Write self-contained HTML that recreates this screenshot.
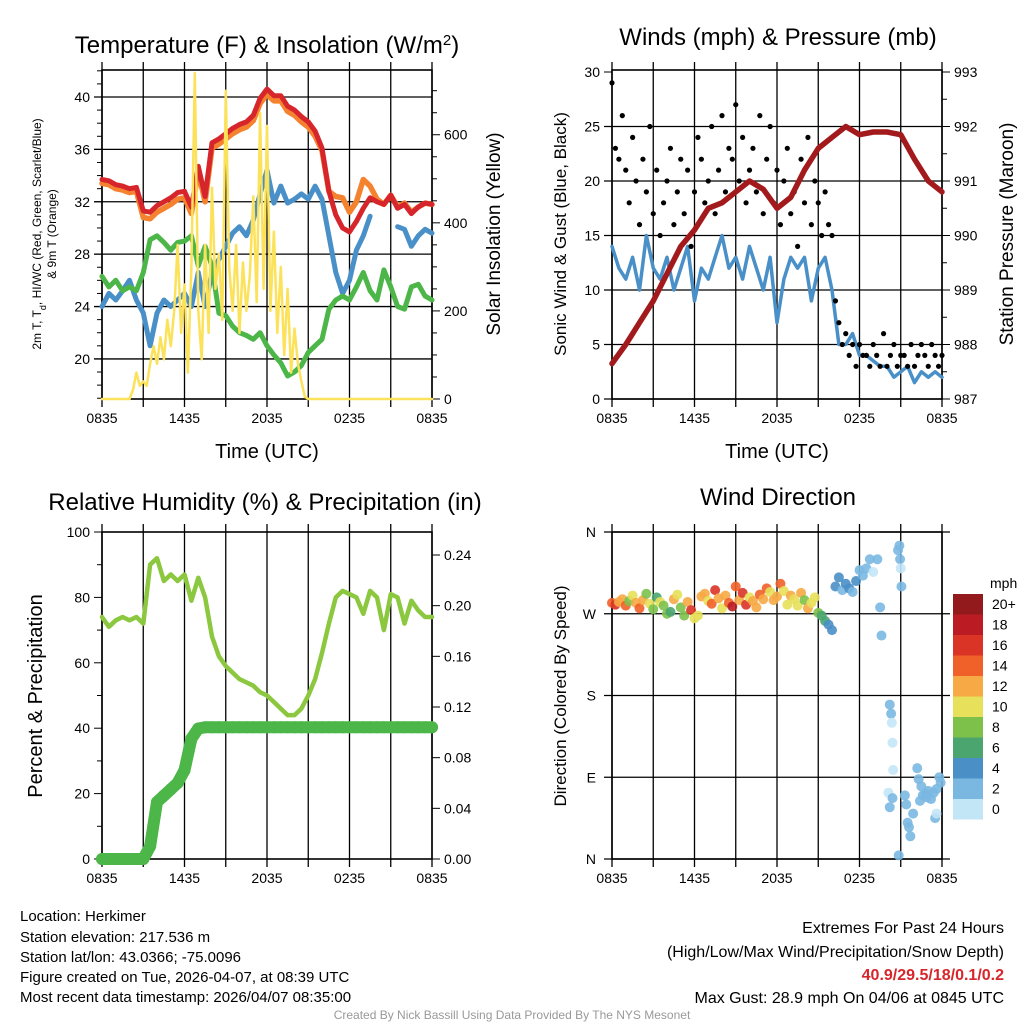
<!DOCTYPE html>
<html><head><meta charset="utf-8"><style>
html,body{margin:0;padding:0;background:#fff;}
svg{display:block;font-family:"Liberation Sans",sans-serif;}
</style></head><body>
<svg id="s" width="1024" height="1024" viewBox="0 0 1024 1024">
<g id="g"></g>
<text x="267" y="53" font-size="24" text-anchor="middle">Temperature (F) &amp; Insolation (W/m<tspan baseline-shift="super" font-size="15">2</tspan>)</text>
<text x="778" y="45" font-size="24" text-anchor="middle">Winds (mph) &amp; Pressure (mb)</text>
<text x="265" y="510" font-size="24" text-anchor="middle">Relative Humidity (%) &amp; Precipitation (in)</text>
<text x="778" y="505" font-size="24" text-anchor="middle">Wind Direction</text>
<text x="267" y="458" font-size="20" text-anchor="middle">Time (UTC)</text>
<text x="777" y="458" font-size="20" text-anchor="middle">Time (UTC)</text>
<text transform="translate(41,234) rotate(-90)" font-size="12" text-anchor="middle">2m T, T<tspan baseline-shift="sub" font-size="9">d</tspan>, HI/WC (Red, Green, Scarlet/Blue)</text>
<text transform="translate(56,234) rotate(-90)" font-size="12" text-anchor="middle">&amp; 9m T (Orange)</text>
<text transform="translate(500,234) rotate(-90)" font-size="19" text-anchor="middle">Solar Insolation (Yellow)</text>
<text transform="translate(566,234) rotate(-90)" font-size="17" text-anchor="middle">Sonic Wind &amp; Gust (Blue, Black)</text>
<text transform="translate(1013,234) rotate(-90)" font-size="19" text-anchor="middle">Station Pressure (Maroon)</text>
<text transform="translate(42,696) rotate(-90)" font-size="20" text-anchor="middle">Percent &amp; Precipitation</text>
<text transform="translate(566,696) rotate(-90)" font-size="17" text-anchor="middle">Direction (Colored By Speed)</text>
<text x="990" y="588" font-size="14">mph</text>
<g font-size="15">
<text x="20" y="921">Location: Herkimer</text>
<text x="20" y="942">Station elevation: 217.536 m</text>
<text x="20" y="962">Station lat/lon: 43.0366; -75.0096</text>
<text x="20" y="982">Figure created on Tue, 2026-04-07, at 08:39 UTC</text>
<text x="20" y="1002">Most recent data timestamp: 2026/04/07 08:35:00</text>
</g>
<g font-size="16" text-anchor="end">
<text x="1004" y="933">Extremes For Past 24 Hours</text>
<text x="1004" y="957">(High/Low/Max Wind/Precipitation/Snow Depth)</text>
<text x="1004" y="980" fill="#d7262b" font-weight="bold">40.9/29.5/18/0.1/0.2</text>
<text x="1004" y="1003">Max Gust: 28.9 mph On 04/06 at 0845 UTC</text>
</g>
<text x="512" y="1019" font-size="12" fill="#999" text-anchor="middle">Created By Nick Bassill Using Data Provided By The NYS Mesonet</text>
</svg>
<script>
const timeLabels=["0835","1435","2035","0235","0835"];
const temp2m=[33.7,33.6,33.3,33.2,33.0,33.1,31.3,31.2,31.7,32.0,32.3,32.7,32.8,31.6,34.7,32.4,36.5,36.8,37.2,37.6,37.9,38.1,38.6,39.9,40.6,40.1,40.1,39.3,39.0,38.5,38.1,37.4,36.1,32.8,31.0,30.0,29.7,30.5,31.5,32.3,32.0,31.8,32.5,31.5,31.8,31.1,31.6,31.9,31.8];
const temp9m=[33.4,33.3,33.0,32.9,32.7,32.8,30.8,30.7,31.2,31.5,31.8,32.2,32.3,31.1,34.3,32.0,36.1,36.4,36.8,37.2,37.5,37.7,38.2,39.5,40.2,39.7,39.7,38.9,38.6,38.1,37.7,37.0,35.9,32.8,32.4,32.3,31.2,32.0,33.7,33.2,32.2,31.8,32.5,31.6,31.9,31.2,31.6,31.9,31.8];
const dewpt=[26.3,25.5,26.0,25.2,25.5,25.2,26.6,29.1,29.4,28.9,28.3,28.9,29.0,29.4,27.1,28.6,27.1,23.5,23.3,22.5,22.0,21.8,21.5,22.0,21.0,20.3,19.7,18.7,19.0,19.5,20.5,21.0,21.5,23.8,24.5,24.8,24.5,25.5,26.6,25.2,24.5,26.8,25.5,24.0,23.8,25.5,25.7,24.8,24.5];
const windChill=[24.0,25.0,24.5,25.2,26.0,24.5,23.5,21.0,23.5,24.5,24.0,24.5,25.0,24.0,26.6,24.0,26.6,27.6,28.6,29.6,30.1,29.4,30.6,32.6,34.4,31.9,33.2,31.9,32.2,32.6,32.2,33.2,32.2,29.4,26.6,25.0,26.0,28.3,29.4,30.9,null,null,null,30.1,29.9,28.6,29.4,29.9,29.6];
const insolation=[0,0,0,0,0,0,0,0,0,20,60,30,40,30,80,120,80,140,90,180,120,200,350,150,260,60,300,740,200,90,350,150,480,250,330,180,700,300,200,350,150,310,200,280,460,220,650,250,620,200,380,150,300,100,250,60,160,80,40,5,0,0,0,0,0,0,0,0,0,0,0,0,0,0,0,0,0,0,0,0,0,0,0,0,0,0,0,0,0,0,0,0,0,0,0,0,0];
const pressure=[987.65,988.0,988.4,988.8,989.3,989.8,990.1,990.5,990.6,990.8,991.0,990.85,990.5,990.7,991.2,991.6,991.8,992.0,991.85,991.9,991.9,991.85,991.4,991.0,990.8];
const sonicWind=[14,12,11,13,10,15,12,11,13,10,12,14,9,12,11,13,15,12,13,11,14,12,10,13,7,11,13,12,13,9,12,13,10,5,5,6,4,4,3.5,3,3,2,2.5,3,1.5,2.5,2,2.5,2];
const gust=[29,23,22,26,21,18,24,20,16,22,19,25,17,21,15,18,20,23,16,19,22,17,21,14,19,24,22,18,20,25,17,21,26,19,23,22,27,20,24,18,21,23,19,26,17,22,25,18,21,16,20,23,17,19,14,22,18,24,16,20,18,15,19,16,15,9,7,5,6,4,5,3,5,4,4,3,5,4,3,6,3,4,5,3,4,4,3,5,3,4,5,4,3,5,4,3,4];
const rh=[74,71,73,74,73,74,72,90,92,85,87,85,87,79,86,80,68,62,59,57,55,54,53,51,50,48,46,44,44,46,50,55,63,72,80,82,81,80,75,82,80,70,81,80,72,79,76,74,74];
const precip=[0,0,0,0,0,0,0,0.01,0.045,0.05,0.055,0.06,0.07,0.095,0.103,0.104,0.104,0.104,0.104,0.104,0.104,0.104,0.104,0.104,0.104,0.104,0.104,0.104,0.104,0.104,0.104,0.104,0.104,0.104,0.104,0.104,0.104,0.104,0.104,0.104,0.104,0.104,0.104,0.104,0.104,0.104,0.104,0.104,0.104];
const dirEarly=[282,280,283,286,279,284,290,282,276,285,292,281,275,288,283,279,270,272,286,291,277,268,283,274,265,268,289,292,284,281,296,287,276,290,282,278,300,285,293,280,288,284,277,291,286,298,294,285,289,303,295,280,290,286,279,293,285,276,282,288,271,268,262,258,252];
const spdEarly=[14,16,12,13,15,8,10,12,14,13,9,11,8,7,10,9,8,7,12,10,9,8,12,16,10,11,13,12,10,14,16,12,10,13,15,19,14,12,17,16,11,13,12,14,12,15,11,13,12,14,11,10,12,11,10,13,9,12,10,11,8,7,6,4,4];
const timeLate=[16.25,16.5,16.75,17,17.25,17.5,17.75,18,18.25,18.5,18.75,19,19.3,19.5,19.6,20.2,20.3,20.35,20.4,20.45,20.1,20.2,20.4,20.8,20.9,20.95,21,21.05,20.85,21.3,21.4,21.5,21.6,21.7,21.9,22.2,22.3,22.5,22.6,22.8,23,23.2,23.4,23.6,23.8,23.9,23.5,23.6,22.9,22.4];
const dirLate=[300,310,296,303,298,294,306,318,312,320,330,316,330,277,246,170,160,150,128,98,73,57,67,340,345,330,320,300,4,70,60,40,35,25,50,100,88,80,70,72,75,66,73,77,90,84,45,50,68,64];
const spdLate=[4,4,3,4,4,3,4,3,2,2,2,1,3,2,2,3,2,1,0,1,0,2,2,2,2,2,1,2,2,3,3,2,2,2,2,3,3,3,2,2,2,2,2,2,3,3,3,0,2,2];
const cbLabels=["20+","18","16","14","12","10","8","6","4","2","0"];
const cbColors=["#921a1d","#bb1c24","#da3427","#ef6129","#f6a945","#e7e05a","#7dc14b","#4aa56e","#4a8fc6","#7ab8e2","#c3e6f7"];

const NS="http://www.w3.org/2000/svg";
const G=document.getElementById('g');
function mk(tag,at,parent){const e=document.createElementNS(NS,tag);for(const k in at)e.setAttribute(k,at[k]);(parent||G).appendChild(e);return e;}
function lin(d0,d1,r0,r1){return v=>r0+(v-d0)*(r1-r0)/(d1-d0);}
function txt(x,y,s,anchor,size){const t=mk('text',{x:x,y:y,'font-size':size||14,'text-anchor':anchor||'middle'});t.textContent=s;return t;}
function path(pts,stroke,w,name){let d='';let pen=false;pts.forEach(p=>{if(p==null){pen=false;return;}d+=(pen?'L':'M')+p[0].toFixed(1)+','+p[1].toFixed(1);pen=true;});const e=mk('path',{d:d,fill:'none',stroke:stroke,'stroke-width':w,'stroke-linejoin':'round','stroke-linecap':'round'});return e;}
function frame(x0,x1,y0,y1,name){
  const xs=lin(0,24,x0,x1);
  for(let h=0;h<=24;h+=3){const l=mk('line',{x1:xs(h),x2:xs(h),y1:y0-8,y2:y1+8,stroke:'#000','stroke-width':1.3});}
  timeLabels.forEach((s,i)=>txt(xs(i*6),y1+24,s));
  const r=mk('rect',{x:x0,y:y0,width:x1-x0,height:y1-y0,fill:'none',stroke:'#000','stroke-width':1.6});
  return xs;
}
function yaxis(x0,x1,scale,ticks,fmt,side,grid,minor){
  ticks.forEach(v=>{const y=scale(v);
    if(grid){const l=mk('line',{x1:x0-8,x2:x1,y1:y,y2:y,stroke:'#000','stroke-width':1.3});}
    if(side==='left'){mk('line',{x1:x0-8,x2:x0,y1:y,y2:y,stroke:'#000'});txt(x0-12,y+5,fmt(v),'end');}
    if(side==='right'){mk('line',{x1:x1,x2:x1+8,y1:y,y2:y,stroke:'#000'});txt(x1+12,y+5,fmt(v),'start');}
  });
  (minor||[]).forEach(v=>{const y=scale(v);const xa=side==='right'?x1:x0-5;mk('line',{x1:xa,x2:xa+5,y1:y,y2:y,stroke:'#000'});});
}

/* Panel 1 */
(function(){
  const x0=102,x1=432,y0=70,y1=399;
  const xs=lin(0,24,x0,x1), yT=lin(40,16.94,97,399), yS=lin(0,747,399,70);
  yaxis(x0,x1,yT,[20,24,28,32,36,40],v=>v,'left',true,[17,18,19,21,22,23,25,26,27,29,30,31,33,34,35,37,38,39,41,42]);
  yaxis(x0,x1,yS,[0,200,400,600],v=>v,'right',false,[50,100,150,250,300,350,450,500,550,650,700]);
  frame(x0,x1,y0,y1,'temp-plot-area');
  const half=a=>a.map((v,i)=>v==null?null:[xs(i*0.5),yT(v)]);
  path(half(windChill),'#4a90c8',5,'windchill-line');
  path(half(dewpt),'#4cb648',5,'dewpoint-line');
  path(half(temp9m),'#f5822f',5.5,'temp9m-line');
  path(half(temp2m),'#d7262b',5,'temp2m-line');
  path(insolation.map((v,i)=>[xs(i*0.25),yS(v)]),'#fbe25a',2.5,'insolation-line');
})();

/* Panel 2 */
(function(){
  const x0=612,x1=942,y0=70,y1=399;
  const xs=lin(0,24,x0,x1), yW=lin(0,30,399,72), yP=lin(987,993,399,72);
  yaxis(x0,x1,yW,[0,5,10,15,20,25],v=>v,'left',true);
  txt(x0-12,yW(30)+5,'30','end');mk('line',{x1:x0-8,x2:x0,y1:yW(30),y2:yW(30),stroke:'#000'});
  yaxis(x0,x1,yP,[987,988,989,990,991,992,993],v=>v,'right',false,[987.5,988.5,989.5,990.5,991.5,992.5]);
  frame(x0,x1,y0,y1,'wind-plot-area');
  path(sonicWind.map((v,i)=>[xs(i*0.5),yW(v)]),'#4a90c8',3.5,'sonic-wind-line');
  gust.forEach((v,i)=>{const c=mk('circle',{cx:xs(i*0.25),cy:yW(v),r:2.6,fill:'#000'});});
  path(pressure.map((v,i)=>[xs(i),yP(v)]),'#a31a1d',5.5,'pressure-line');
})();

/* Panel 3 */
(function(){
  const x0=102,x1=432,y0=532,y1=859;
  const xs=lin(0,24,x0,x1), yR=lin(0,100,859,532), yPr=lin(0,0.24,859,555);
  yaxis(x0,x1,yR,[0,20,40,60,80,100],v=>v,'left',false,[10,30,50,70,90]);
  yaxis(x0,x1,yPr,[0,0.04,0.08,0.12,0.16,0.20,0.24],v=>v.toFixed(2),'right',false);
  frame(x0,x1,y0,y1,'rh-plot-area');
  path(rh.map((v,i)=>[xs(i*0.5),yR(v)]),'#8cc83f',4.5,'rh-line');
  path(precip.map((v,i)=>[xs(i*0.5),yPr(v)]),'#4cb648',12,'precip-line');
  precip.forEach((v,i)=>{const c=mk('circle',{cx:xs(i*0.5),cy:yPr(v),r:6,fill:'#4cb648'});});
})();

/* Panel 4 */
(function(){
  const x0=612,x1=942,y0=532,y1=859;
  const xs=lin(0,24,x0,x1), yD=lin(0,360,859,532);
  const lbl=['N','E','S','W','N'];
  [0,90,180,270,360].forEach((v,i)=>{const y=yD(v);const l=mk('line',{x1:x0-8,x2:x1+8,y1:y,y2:y,stroke:'#000','stroke-width':1.3});txt(x0-16,y+5,lbl[i],'end');});
  frame(x0,x1,y0,y1,'wdir-plot-area');
  const col=s=>{const b=Math.min(10,Math.floor(s/2));return cbColors[10-b];};
  dirEarly.forEach((d,i)=>{const c=mk('circle',{cx:xs(i*0.25),cy:yD(d),r:5,fill:col(spdEarly[i]),opacity:0.9});});
  timeLate.forEach((t,i)=>{const c=mk('circle',{cx:xs(t),cy:yD(dirLate[i]),r:5,fill:col(spdLate[i]),opacity:0.9});});
  cbColors.forEach((c,i)=>{const r=mk('rect',{x:953,y:594+i*20.5,width:30,height:20.5,fill:c});txt(992,609+i*20.5,cbLabels[i],'start');});
})();
</script>
</body></html>
